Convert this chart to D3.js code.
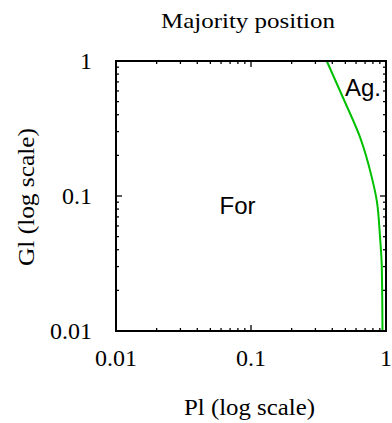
<!DOCTYPE html>
<html><head><meta charset="utf-8">
<script src="https://cdn.jsdelivr.net/npm/d3@7"></script>
<style>html,body{margin:0;padding:0;background:#fff;}svg{display:block;}</style>
</head><body>
<svg id="chart" width="392" height="423"></svg>
<script>
// Boundary curve (majority position): Gl vs Pl
const glValues = [1, 0.514, 0.274, 0.138, 0.0933, 0.0497, 0.0298, 0.01];
const plValues = [0.364, 0.489, 0.641, 0.784, 0.853, 0.903, 0.9307, 0.9417];
const tickValues = [0.01, 0.1, 1];
const tickLabels = ["0.01", "0.1", "1"];
const regionLabels = ["For", "Ag."];
const title = "Majority position";
const xTitle = "Pl (log scale)";
const yTitle = "Gl (log scale)";

const svg = d3.select("#chart");
const L = 116, R = 386, T = 61, B = 331;
const x = d3.scaleLog().domain([0.01, 1]).range([L, R]);
const y = d3.scaleLog().domain([0.01, 1]).range([B, T]);

const serif = "'Liberation Serif', 'Times New Roman', serif";
const sans = "'Liberation Sans', Arial, sans-serif";

const majors = [0.01, 0.1, 1];
const minors = [];
[0.01, 0.1].forEach(d => { for (let k = 2; k <= 9; k++) minors.push(d * k); });

const ticks = svg.append("g").attr("stroke", "#000").attr("stroke-width", 1.3);
function drawTicks(vals, len) {
  vals.forEach(v => {
    ticks.append("line").attr("x1", x(v)).attr("x2", x(v)).attr("y1", B).attr("y2", B - len);
    ticks.append("line").attr("x1", x(v)).attr("x2", x(v)).attr("y1", T).attr("y2", T + len);
    ticks.append("line").attr("y1", y(v)).attr("y2", y(v)).attr("x1", L).attr("x2", L + len);
    ticks.append("line").attr("y1", y(v)).attr("y2", y(v)).attr("x1", R).attr("x2", R - len);
  });
}
drawTicks(minors, 3);
drawTicks(majors, 6);

// curve
const pts = glValues.map((g, i) => [plValues[i], g]);
const line = d3.line().x(d => x(d[0])).y(d => y(d[1])).curve(d3.curveMonotoneY);
svg.append("path").datum(pts).attr("d", line)
  .attr("fill", "none").attr("stroke", "#00c000").attr("stroke-width", 2);

// frame
svg.append("rect").attr("x", L).attr("y", T).attr("width", R - L).attr("height", B - T)
  .attr("fill", "none").attr("stroke", "#000").attr("stroke-width", 2);

// tick labels
svg.append("g").selectAll("text").data(tickValues).join("text")
  .attr("x", 92).attr("y", d => y(d)).attr("dy", "0.33em")
  .attr("text-anchor", "end").attr("font-family", serif).attr("font-size", 24)
  .text((d, i) => tickLabels[i]);
svg.append("g").selectAll("text").data(tickValues).join("text")
  .attr("x", d => x(d)).attr("y", 366)
  .attr("text-anchor", "middle").attr("font-family", serif).attr("font-size", 24)
  .text((d, i) => tickLabels[i]);

// titles
svg.append("text").attr("x", 248).attr("y", 28).attr("text-anchor", "middle")
  .attr("font-family", serif).attr("font-size", 22)
  .attr("textLength", 174).attr("lengthAdjust", "spacingAndGlyphs").text(title);
svg.append("text").attr("x", 249.5).attr("y", 415).attr("text-anchor", "middle")
  .attr("font-family", serif).attr("font-size", 23)
  .attr("textLength", 131).attr("lengthAdjust", "spacingAndGlyphs").text(xTitle);
svg.append("text").attr("transform", "translate(34,197) rotate(-90)").attr("text-anchor", "middle")
  .attr("font-family", serif).attr("font-size", 23)
  .attr("textLength", 138).attr("lengthAdjust", "spacingAndGlyphs").text(yTitle);

// region labels
svg.append("text").attr("x", 237.5).attr("y", 214).attr("text-anchor", "middle")
  .attr("font-family", sans).attr("font-size", 24).text(regionLabels[0]);
svg.append("text").attr("x", 345).attr("y", 96).attr("text-anchor", "start")
  .attr("font-family", sans).attr("font-size", 24).text(regionLabels[1]);
</script>
</body></html>
